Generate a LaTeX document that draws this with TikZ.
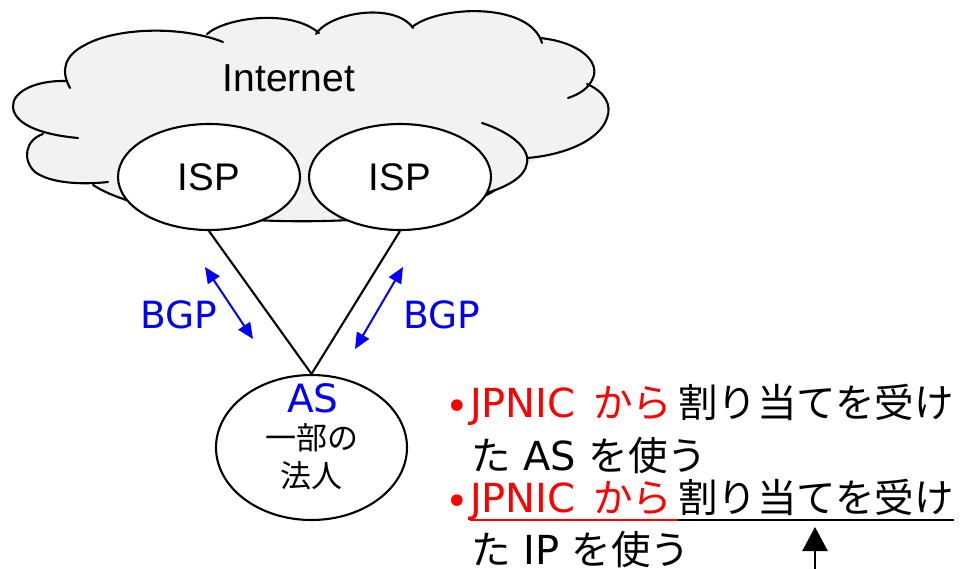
\documentclass[tikz,border=0pt]{standalone}
\usepackage{fontspec}
\setmainfont{DejaVu Sans}
\newfontfamily\jp{Noto Sans CJK JP}
\newfontfamily\arl{Liberation Sans}
\usetikzlibrary{arrows.meta,shapes.geometric}
\definecolor{cloudgray}{HTML}{F2F2F2}
\newcommand{\jpb}{\jp\fontsize{39.5}{47}\selectfont}
\begin{document}
\begin{tikzpicture}[x=1pt,y=-1pt,
  outl/.style={line width=2.1pt, line join=round, line cap=round},
  cfill/.style={fill=cloudgray},
  ispnode/.style={ellipse, draw, line width=2.1pt, fill=white, minimum width=182pt, minimum height=106pt, inner sep=0pt, font=\arl\fontsize{38.5}{44}\selectfont},
  asnode/.style={ellipse, draw, line width=2.1pt, fill=white, minimum width=191pt, minimum height=145pt, inner sep=0pt},
  lbl/.style={inner sep=0pt, outer sep=0pt},
  latinfont/.style={font=\fontsize{40}{47}\selectfont},
  bgparrow/.style={blue, line width=2pt, {Triangle[length=16pt,width=14pt]}-{Triangle[length=16pt,width=14pt]}},
  conn/.style={line width=2.1pt},
  ul/.style={line width=2pt}
]
\useasboundingbox (0,0) rectangle (961,568);
% ---- cloud fill (fans from the centre) ----
\fill[cfill] (310,125) -- (67,81) .. controls (35,80) and (12,92) .. (13,107) .. controls (14,122) and (35,134) .. (78,138) -- cycle;
\fill[cfill] (310,125) -- (70,88) .. controls (60,70) and (65,55) .. (85,45) .. controls (115,28) and (180,25) .. (223,42) -- cycle;
\fill[cfill] (310,125) -- (207,34) .. controls (225,18) and (290,8) .. (319,33) -- cycle;
\fill[cfill] (310,125) -- (316,34) .. controls (330,12) and (395,2) .. (413,28) -- cycle;
\fill[cfill] (310,125) -- (412,27) .. controls (440,5) and (530,2) .. (542,43) -- cycle;
\fill[cfill] (310,125) -- (540,38) .. controls (580,42) and (600,62) .. (593,78) .. controls (589,88) and (580,94) .. (568,98) -- cycle;
\fill[cfill] (310,125) -- (587,84) .. controls (605,92) and (612,105) .. (607,118) .. controls (600,140) and (565,155) .. (527,158) -- cycle;
\fill[cfill] (310,125) -- (482,123) .. controls (510,132) and (530,148) .. (527,163) .. controls (525,178) and (505,188) .. (480,195) -- cycle;
\fill[cfill] (310,125) -- (495,190) .. controls (440,230) and (170,235) .. (93,185) -- cycle;
\fill[cfill] (310,125) -- (43,134) .. controls (25,140) and (22,160) .. (35,172) .. controls (50,183) and (80,185) .. (108,182) -- cycle;
\fill[cfill] (310,125) ellipse (250 and 82);
% ---- cloud outline ----
\draw[outl] (67,81) .. controls (35,80) and (12,92) .. (13,107) .. controls (14,122) and (35,134) .. (78,138);
\draw[outl] (70,88) .. controls (60,70) and (65,55) .. (85,45) .. controls (115,28) and (180,25) .. (223,42);
\draw[outl] (207,34) .. controls (225,18) and (290,8) .. (319,33);
\draw[outl] (316,34) .. controls (330,12) and (395,2) .. (413,28);
\draw[outl] (412,27) .. controls (440,5) and (530,2) .. (542,43);
\draw[outl] (540,38) .. controls (580,42) and (600,62) .. (593,78) .. controls (589,88) and (580,94) .. (568,98);
\draw[outl] (587,84) .. controls (605,92) and (612,105) .. (607,118) .. controls (600,140) and (565,155) .. (527,158);
\draw[outl] (482,123) .. controls (510,132) and (530,148) .. (527,163) .. controls (525,178) and (505,188) .. (480,195);
\draw[outl] (495,190) .. controls (440,230) and (170,235) .. (93,185);
\draw[outl] (43,134) .. controls (25,140) and (22,160) .. (35,172) .. controls (50,183) and (80,185) .. (108,182);
\node[lbl, font=\arl\fontsize{39}{44}\selectfont, anchor=base] (inet) at (289,91) {Internet};
% ---- ISP / AS ----
\node[ispnode] (isp1) at (209,177) {ISP};
\node[ispnode] (isp2) at (400,177) {ISP};
\node[asnode] (as) at (311.5,447.5) {};
\draw[conn] (isp1.south) -- (as.north);
\draw[conn] (isp2.south) -- (as.north);
\node[lbl, text=blue, font=\fontsize{39}{44}\selectfont, anchor=base] (astxt) at (313,412) {AS};
\node[lbl, font=\jp\fontsize{31}{36}\selectfont, anchor=base] (asjp1) at (312,449) {一部の};
\node[lbl, font=\jp\fontsize{31}{36}\selectfont, anchor=base] (asjp2) at (311,487) {法人};
% ---- BGP ----
\coordinate (b1a) at (205,267); \coordinate (b1b) at (253,339);
\coordinate (b2a) at (403,267); \coordinate (b2b) at (355,349);
\draw[bgparrow] (b1a) -- (b1b);
\draw[bgparrow] (b2a) -- (b2b);
\node[lbl, text=blue, font=\fontsize{37.5}{44}\selectfont, anchor=base] (bgp1) at (179,328) {BGP};
\node[lbl, text=blue, font=\fontsize{37.5}{44}\selectfont, anchor=base] (bgp2) at (441.5,328) {BGP};
% ---- bullet text ----
\node[lbl, latinfont, text=red, anchor=base] (dot1) at (457,420) {•};
\node[lbl, latinfont, text=red, anchor=base west] (r1) at (470,417) {JPNIC\hspace{5pt} {\jpb から}};
\node[lbl, font=\jpb, anchor=base west] (k1) at (678,417) {割り当てを受け};
\node[lbl, latinfont, anchor=base west] (t2) at (471,470) {{\jpb た} AS {\jpb を使う}};
\node[lbl, latinfont, text=red, anchor=base] (dot3) at (457,515) {•};
\node[lbl, latinfont, text=red, anchor=base west] (r3) at (470,512) {JPNIC\hspace{5pt} {\jpb から}};
\node[lbl, font=\jpb, anchor=base west] (k3) at (678,512) {割り当てを受け};
\node[lbl, latinfont, anchor=base west] (t4) at (471,564) {{\jpb た} IP {\jpb を使う}};
\draw[ul, red] ([yshift=-8pt]r3.base west) -- ([yshift=-8pt]k3.base west);
\draw[ul] ([yshift=-8pt]k3.base west) -- ([yshift=-8pt]k3.base east);
% ---- up arrow ----
\coordinate (arrbot) at (815,580); \coordinate (arrtip) at (815,527);
\draw[line width=2.5pt, -{Triangle[length=24pt,width=25pt]}] (arrbot) -- (arrtip);
\end{tikzpicture}
\end{document}
